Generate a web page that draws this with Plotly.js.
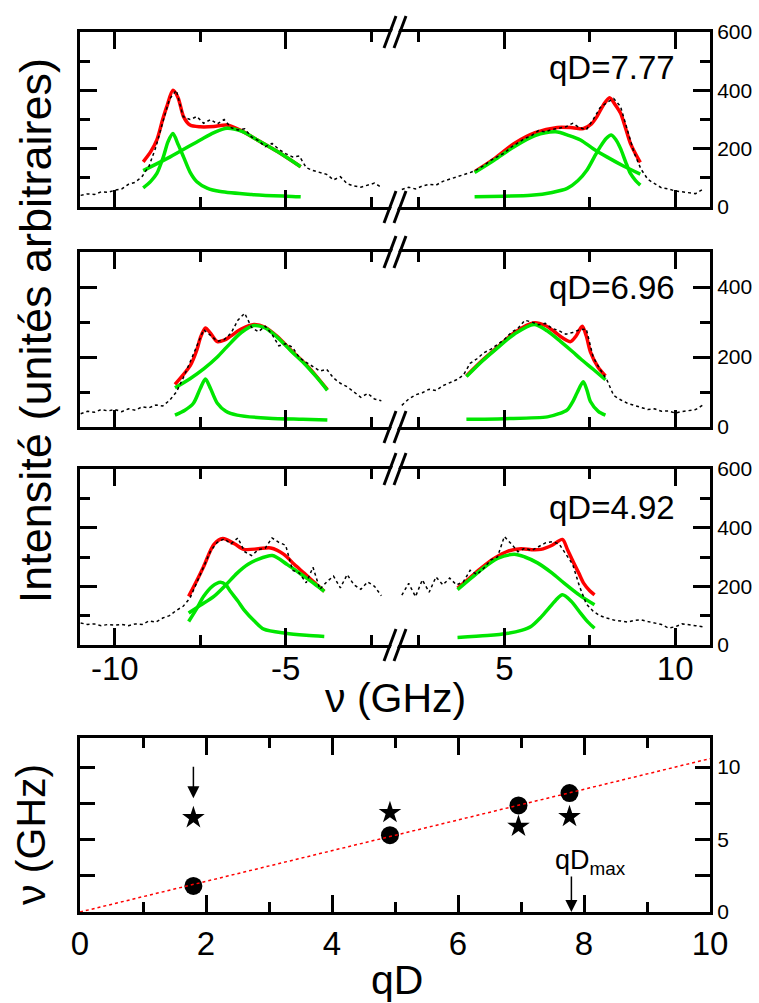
<!DOCTYPE html>
<html><head><meta charset="utf-8">
<script src="https://cdn.plot.ly/plotly-3.0.1.min.js"></script>
<style>html,body{margin:0;padding:0;background:#fff}</style>
</head><body><div id="chart" style="width:759px;height:1003px"></div>
<script>
// ---------- spectra: frequency grids (GHz) ----------
const xL = [-11.0,-10.8,-10.6,-10.4,-10.2,-10.0,-9.8,-9.6,-9.4,-9.2,-9.0,-8.8,-8.6,-8.4,-8.2,-8.0,-7.8,-7.6,-7.4,-7.2,-7.0,-6.8,-6.6,-6.4,-6.2,-6.0,-5.8,-5.6,-5.4,-5.2,-5.0,-4.8,-4.6,-4.4,-4.2,-4.0,-3.8,-3.6,-3.4,-3.2,-3.0,-2.8,-2.6,-2.4,-2.2];
const xR = [2.0,2.2,2.4,2.6,2.8,3.0,3.2,3.4,3.6,3.8,4.0,4.2,4.4,4.6,4.8,5.0,5.2,5.4,5.6,5.8,6.0,6.2,6.4,6.6,6.8,7.0,7.2,7.4,7.6,7.8,8.0,8.2,8.4,8.6,8.8,9.0,9.2,9.4,9.6,9.8,10.0,10.2,10.4,10.6,10.8];

// ---------- measured spectra ----------
const d777L = [40,45,43,52,50,58,62,78,85,105,140,205,290,370,400,310,300,310,287,300,285,300,272,264,268,240,228,207,218,198,183,172,175,135,125,118,112,93,104,80,72,68,75,82,68];
const d777R = [60,68,62,72,78,75,88,95,102,110,118,128,142,160,172,185,205,220,235,245,262,258,266,270,275,287,272,265,300,340,358,372,345,265,185,130,95,80,66,62,55,52,50,46,60];
const d696L = [38,45,42,50,46,50,44,52,48,58,55,63,60,76,100,140,185,232,278,262,245,250,268,305,325,285,272,288,265,232,238,228,198,185,172,160,165,140,125,115,100,85,96,80,75];
const d696R = [62,80,92,98,108,104,118,126,135,148,182,195,212,222,236,250,270,282,305,300,292,296,282,275,265,270,278,280,200,165,135,90,78,68,62,55,50,52,45,46,40,44,48,50,62];
const d492L = [75,70,72,66,70,68,70,66,72,70,82,78,92,100,118,132,160,215,268,320,350,362,345,365,318,305,325,330,365,350,340,255,245,212,265,190,215,235,195,240,205,190,215,200,168];
const d492R = [170,210,165,222,180,232,205,228,205,215,255,240,262,290,300,370,345,318,330,322,335,348,352,345,310,275,200,140,115,100,92,85,82,78,84,86,80,76,70,58,62,72,70,66,62];

// ---------- fits, qD = 7.77 ----------
const f777L_redX = [-9.17,-8.95,-8.77,-8.6,-8.48,-8.3,-8.15,-7.99,-7.8,-7.5,-7.1,-6.72,-6.3,-5.83,-5.24,-4.56];
const f777L_red  = [155,190,230,300,344,400,375,310,281,275,276,281,262,230,190,138];
const f777L_brX  = [-9.17,-8.38,-7.5,-7.1,-6.72,-6.3,-5.83,-5.24,-4.56];
const f777L_br   = [125,172,230,255,270,260,230,190,138];
const f777L_nrX  = [-9.17,-8.95,-8.77,-8.58,-8.44,-8.3,-8.15,-7.99,-7.8,-7.6,-7.3,-6.91,-6.0,-5.0,-4.56];
const f777L_nr   = [66,88,115,172,225,252,215,172,120,87,65,53,43,37,35];
const f777R_redX = [4.13,4.7,5.29,5.9,6.55,7.0,7.32,7.55,7.71,7.9,8.08,8.25,8.4,8.55,8.69,8.85,8.98];
const f777R_red  = [121,165,218,255,273,272,269,285,310,350,375,350,322,270,218,180,153];
const f777R_brX  = [4.13,4.7,5.29,5.9,6.5,6.9,7.23,7.6,8.0,8.5,8.98];
const f777R_br   = [118,160,207,245,258,245,230,200,172,140,113];
const f777R_nrX  = [4.13,5.0,5.78,6.4,6.84,7.15,7.42,7.65,7.81,7.98,8.13,8.27,8.4,8.55,8.69,8.85,8.98];
const f777R_nr   = [35,37,40,50,64,90,127,175,207,235,247,230,201,155,115,90,75];

// ---------- fits, qD = 6.96 ----------
const f696L_redX = [-8.24,-7.79,-7.6,-7.5,-7.35,-7.2,-7.0,-6.8,-6.62,-6.3,-5.93,-5.6,-5.25,-4.85,-4.47,-4.1,-3.78];
const f696L_red  = [122,176,220,254,283,268,244,248,259,280,293,285,259,220,185,145,107];
const f696L_brX  = [-8.24,-7.8,-7.4,-7.0,-6.72,-6.3,-5.93,-5.6,-5.25,-4.85,-4.47,-4.1,-3.78];
const f696L_br   = [112,138,166,200,229,270,290,283,257,218,183,143,105];
const f696L_nrX  = [-8.24,-7.95,-7.7,-7.5,-7.35,-7.2,-7.0,-6.75,-6.42,-5.5,-4.5,-3.78];
const f696L_nr   = [34,48,68,110,137,110,68,45,34,25,22,20];
const f696R_redX = [3.89,4.35,4.81,5.3,5.87,6.2,6.46,6.7,6.94,7.1,7.28,7.4,7.52,7.75,7.96];
const f696R_red  = [146,190,229,270,298,290,273,255,244,260,288,260,215,170,146];
const f696R_brX  = [3.89,4.35,4.81,5.3,5.87,6.25,6.65,7.0,7.23,7.6,7.96];
const f696R_br   = [144,188,227,266,293,275,244,215,195,165,135];
const f696R_nrX  = [3.89,5.0,6.26,6.6,6.84,7.0,7.13,7.31,7.42,7.52,7.75,7.96];
const f696R_nr   = [22,24,29,38,49,72,98,129,105,73,45,34];

// ---------- fits, qD = 4.92 ----------
const f492L_redX = [-7.84,-7.6,-7.4,-7.1,-6.84,-6.5,-6.22,-5.8,-5.44,-5.05,-4.75,-4.46,-4.15,-3.87];
const f492L_red  = [166,220,268,343,363,345,326,328,331,309,275,245,212,183];
const f492L_brX  = [-7.84,-7.5,-7.1,-6.75,-6.42,-6.1,-5.83,-5.39,-4.95,-4.46,-4.15,-3.87];
const f492L_br   = [109,135,166,205,245,275,291,305,274,234,208,183];
const f492L_nrX  = [-7.84,-7.6,-7.4,-7.15,-6.91,-6.75,-6.62,-6.4,-6.22,-5.9,-5.64,-5.0,-4.4,-3.87];
const f492L_nr   = [80,125,166,200,214,205,183,150,120,80,54,40,33,29];
const f492R_redX = [3.63,4.0,4.33,4.7,5.11,5.49,5.8,6.07,6.4,6.7,6.85,7.03,7.18,7.32,7.5,7.64];
const f492R_red  = [194,230,263,295,320,328,325,326,340,360,325,280,245,211,185,171];
const f492R_brX  = [3.63,4.0,4.33,4.8,5.29,5.6,5.97,6.4,6.75,7.2,7.64];
const f492R_br   = [189,225,257,295,309,300,280,245,211,170,137];
const f492R_nrX  = [3.63,4.5,5.11,5.5,5.78,6.05,6.26,6.5,6.7,6.95,7.23,7.45,7.64];
const f492R_nr   = [26,32,40,50,63,92,120,152,171,150,109,78,57];

// ---------- tick labels ----------
const ticksL = [-10,-5], ticksLText = ['-10','-5'], minorL = [-7.5,-2.5];
const ticksR = [5,10],   ticksRText = ['5','10'],   minorR = [2.5,7.5];
const qdLabels = ['qD=7.77','qD=6.96','qD=4.92'];

// ---------- dispersion panel ----------
const qD      = [1.8, 4.92, 6.96, 7.77];
const nuCirc  = [1.8, 5.3, 7.35, 8.2];
const nuStar  = [6.5, 6.85, 5.9, 6.57];
const fitQD   = [0, 10];
const fitNu   = [0, 10.58];

// ---------- styles ----------
const FONT = 'Liberation Sans, Arial, sans-serif';
const RED = '#ff0000', GREEN = '#00e600';

function fitTrace(x, y, color, xa, ya) {
  return {x, y, xaxis: xa, yaxis: ya, type: 'scatter', mode: 'lines',
          line: {color, width: 3.5, shape: 'spline', smoothing: 0.8}, hoverinfo: 'skip'};
}
function dataTrace(x, y, xa, ya) {
  return {x, y, xaxis: xa, yaxis: ya, type: 'scatter', mode: 'lines',
          line: {color: 'black', width: 1.5, dash: 'dot'}, hoverinfo: 'skip'};
}
function panel(xa, ya, xd, yd, fr, fb, fn) {
  return [fitTrace(fr[0], fr[1], RED, xa, ya), fitTrace(fb[0], fb[1], GREEN, xa, ya),
          fitTrace(fn[0], fn[1], GREEN, xa, ya), dataTrace(xd, yd, xa, ya)];
}

const traces = [].concat(
  panel('x', 'y', xL, d777L, [f777L_redX, f777L_red], [f777L_brX, f777L_br], [f777L_nrX, f777L_nr]),
  panel('x2', 'y2', xR, d777R, [f777R_redX, f777R_red], [f777R_brX, f777R_br], [f777R_nrX, f777R_nr]),
  panel('x3', 'y3', xL, d696L, [f696L_redX, f696L_red], [f696L_brX, f696L_br], [f696L_nrX, f696L_nr]),
  panel('x4', 'y4', xR, d696R, [f696R_redX, f696R_red], [f696R_brX, f696R_br], [f696R_nrX, f696R_nr]),
  panel('x5', 'y5', xL, d492L, [f492L_redX, f492L_red], [f492L_brX, f492L_br], [f492L_nrX, f492L_nr]),
  panel('x6', 'y6', xR, d492R, [f492R_redX, f492R_red], [f492R_brX, f492R_br], [f492R_nrX, f492R_nr]),
  [
    {x: qD, y: nuCirc, xaxis: 'x7', yaxis: 'y7', type: 'scatter', mode: 'markers',
     marker: {symbol: 'circle', size: 18, color: 'black'}, hoverinfo: 'skip'},
    {x: qD, y: nuStar, xaxis: 'x7', yaxis: 'y7', type: 'scatter', mode: 'markers',
     marker: {symbol: 'star', size: 17, color: 'black'}, hoverinfo: 'skip'},
    {x: fitQD, y: fitNu, xaxis: 'x7', yaxis: 'y7', type: 'scatter', mode: 'lines',
     line: {color: RED, width: 1.5, dash: 'dot'}, hoverinfo: 'skip'}
  ]
);

const common = {showline: true, linewidth: 3, linecolor: 'black', ticks: 'inside',
  tickwidth: 3, tickcolor: 'black', showgrid: false, zeroline: false, fixedrange: true};

function specX(domain, range, anchor, vals, text, minor, labels) {
  return Object.assign({}, common, {domain, range, anchor, mirror: 'ticks', ticklen: 17,
    tickmode: 'array', tickvals: vals, ticktext: text, ticklabelstandoff: -8,
    minor: {tickmode: 'array', tickvals: minor, ticklen: 10, tickwidth: 3, tickcolor: 'black', ticks: 'inside'},
    showticklabels: labels, tickfont: {family: FONT, size: 33, color: 'black'}});
}
function specYL(domain, range, anchor) {
  return Object.assign({}, common, {domain, range, anchor, side: 'left', ticklen: 17,
    tick0: 0, dtick: 200, minor: {dtick: 100, ticklen: 10, tickwidth: 3, tickcolor: 'black', ticks: 'inside'},
    showticklabels: false});
}
function specYR(overlay, range, anchor) {
  return Object.assign({}, common, {overlaying: overlay, range, anchor, side: 'right', ticklen: 17,
    tick0: 0, dtick: 200, minor: {dtick: 100, ticklen: 10, tickwidth: 3, tickcolor: 'black', ticks: 'inside'},
    showticklabels: true, tickfont: {family: FONT, size: 21, color: 'black'}});
}

const dom1 = [0.8011, 1.0], dom2 = [0.5511, 0.75], dom3 = [0.3034, 0.5034];
const rL = [-11.02, -1.8], rR = [1.8, 11.02];

const layout = {
  width: 759, height: 1003, showlegend: false,
  margin: {l: 80, r: 49, t: 32, b: 91},
  paper_bgcolor: 'white', plot_bgcolor: 'rgba(0,0,0,0)',
  font: {family: FONT, color: 'black'},
  xaxis:  specX([0, 0.5], rL, 'y',  ticksL, ticksLText, minorL, false),
  xaxis2: specX([0.5, 1], rR, 'y2', ticksR, ticksRText, minorR, false),
  xaxis3: specX([0, 0.5], rL, 'y3', ticksL, ticksLText, minorL, false),
  xaxis4: specX([0.5, 1], rR, 'y4', ticksR, ticksRText, minorR, false),
  xaxis5: specX([0, 0.5], rL, 'y5', ticksL, ticksLText, minorL, true),
  xaxis6: specX([0.5, 1], rR, 'y6', ticksR, ticksRText, minorR, true),
  yaxis:  specYL(dom1, [0, 600], 'x'),
  yaxis2: specYR('y', [0, 600], 'x2'),
  yaxis3: specYL(dom2, [0, 500], 'x3'),
  yaxis4: specYR('y3', [0, 500], 'x4'),
  yaxis5: specYL(dom3, [0, 600], 'x5'),
  yaxis6: specYR('y5', [0, 600], 'x6'),
  xaxis7: Object.assign({}, common, {domain: [0, 1], range: [0, 10], anchor: 'y7', mirror: 'ticks',
    ticklen: 17, tick0: 0, dtick: 2,
    minor: {dtick: 1, ticklen: 10, tickwidth: 3, tickcolor: 'black', ticks: 'inside'},
    tickfont: {family: FONT, size: 33, color: 'black'}}),
  yaxis7: Object.assign({}, common, {domain: [0, 0.1977], range: [0, 12], anchor: 'x7', side: 'right',
    mirror: 'ticks', ticklen: 15, tick0: 0, dtick: 5,
    minor: {dtick: 2.5, ticklen: 15, tickwidth: 3, tickcolor: 'black', ticks: 'inside'},
    tickfont: {family: FONT, size: 21, color: 'black'}}),
  annotations: [],
  shapes: []
};

// qD labels
const qdY = [0.9602, 0.7091, 0.4597];
qdLabels.forEach((t, i) => layout.annotations.push({
  text: t, xref: 'paper', yref: 'paper', x: 0.845, y: qdY[i], xanchor: 'center', yanchor: 'middle',
  showarrow: false, font: {family: FONT, size: 33, color: 'black'}}));

// titles
layout.annotations.push(
  {text: 'Intensité (unités arbitraires)', xref: 'paper', yref: 'paper', x: -0.0714, y: 0.660,
   textangle: -90, showarrow: false, xanchor: 'center', yanchor: 'middle',
   font: {family: FONT, size: 45, color: 'black'}},
  {text: 'ν (GHz)', xref: 'paper', yref: 'paper', x: 0.5, y: 0.2432, showarrow: false,
   xanchor: 'center', yanchor: 'middle', font: {family: FONT, size: 41, color: 'black'}},
  {text: 'ν (GHz)', xref: 'paper', yref: 'paper', x: -0.0778, y: 0.0886, textangle: -90,
   showarrow: false, xanchor: 'center', yanchor: 'middle', font: {family: FONT, size: 41, color: 'black'}},
  {text: 'qD', xref: 'paper', yref: 'paper', x: 0.503, y: -0.0773, showarrow: false,
   xanchor: 'center', yanchor: 'middle', font: {family: FONT, size: 41, color: 'black'}},
  {text: 'qD<sub>max</sub>', xref: 'x7', yref: 'y7', x: 7.51, y: 4.73, xanchor: 'left', yanchor: 'top',
   showarrow: false, font: {family: FONT, size: 27, color: 'black'}},
  {text: ' ', xref: 'x7', yref: 'y7', x: 7.8, y: 0, axref: 'x7', ayref: 'y7', ax: 7.8, ay: 3.04,
   showarrow: true, arrowhead: 2, arrowsize: 1.6, arrowwidth: 1.5, arrowcolor: 'black', standoff: 0},
  {text: ' ', xref: 'x7', yref: 'y7', x: 1.8, y: 7.85, axref: 'x7', ayref: 'y7', ax: 1.8, ay: 10.6,
   showarrow: true, arrowhead: 2, arrowsize: 1.6, arrowwidth: 1.5, arrowcolor: 'black', standoff: 0}
);

// axis break marks
[dom1, dom2, dom3].forEach(d => {
  d.forEach(yv => {
    const base = {xref: 'paper', yref: 'paper', xsizemode: 'pixel', ysizemode: 'pixel',
                  xanchor: 0.5, yanchor: yv, type: 'line', layer: 'above'};
    layout.shapes.push(Object.assign({}, base, {x0: -3, y0: -8, x1: 3, y1: 8, line: {color: 'white', width: 6}}));
    layout.shapes.push(Object.assign({}, base, {x0: -11, y0: -16, x1: 1, y1: 16, line: {color: 'black', width: 3}}));
    layout.shapes.push(Object.assign({}, base, {x0: -1, y0: -16, x1: 11, y1: 16, line: {color: 'black', width: 3}}));
  });
});

Plotly.newPlot('chart', traces, layout, {staticPlot: true, displayModeBar: false});
</script></body></html>
